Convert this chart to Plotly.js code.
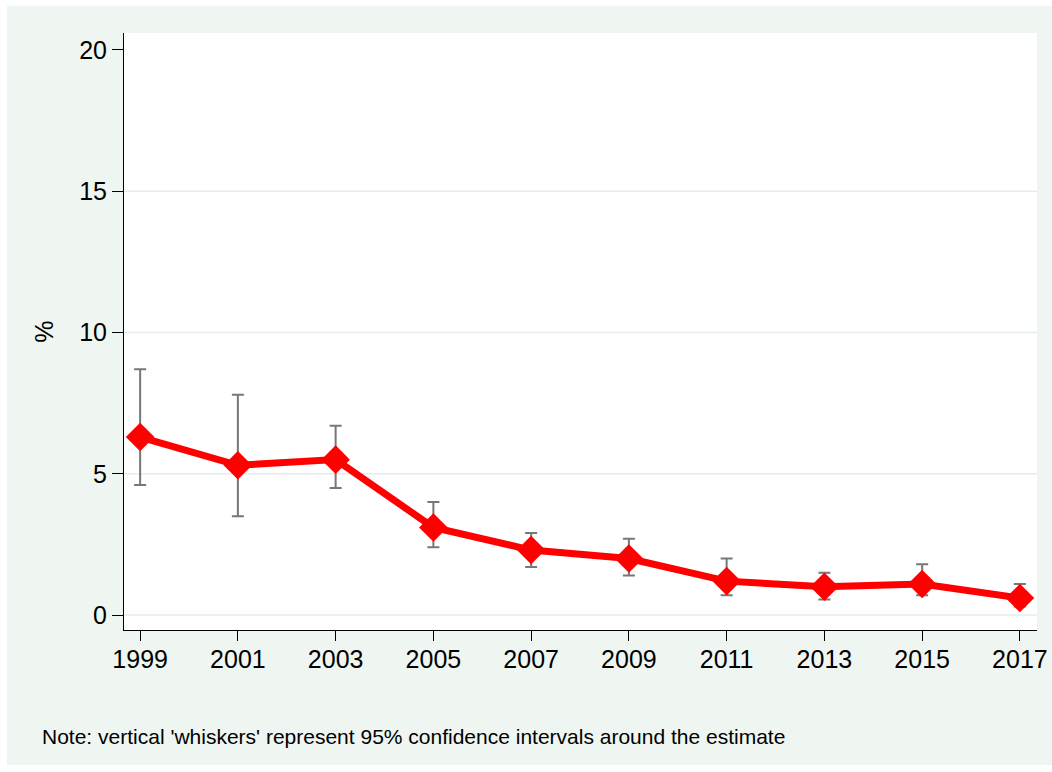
<!DOCTYPE html>
<html>
<head>
<meta charset="utf-8">
<script src="https://cdn.plot.ly/plotly-3.0.1.min.js"></script>
<style>
  html, body { margin: 0; padding: 0; background: #ffffff; width: 1052px; height: 772px; overflow: hidden; }
  #chart { position: absolute; left: 7px; top: 6px; width: 1045px; height: 759px; }
</style>
</head>
<body>
<div id="chart"></div>
<script>
const years = [1999, 2001, 2003, 2005, 2007, 2009, 2011, 2013, 2015, 2017];
const estimate = [6.3, 5.3, 5.5, 3.1, 2.3, 2.0, 1.2, 1.0, 1.1, 0.6];
const ciUpper = [8.7, 7.8, 6.7, 4.0, 2.9, 2.7, 2.0, 1.5, 1.8, 1.1];
const ciLower = [4.6, 3.5, 4.5, 2.4, 1.7, 1.4, 0.7, 0.55, 0.7, 0.3];
const yTicks = [0, 5, 10, 15, 20];
const gridValues = [0, 5, 10, 15];
const noteText = "Note: vertical 'whiskers' represent 95% confidence intervals around the estimate";

const errPlus = estimate.map((v, i) => ciUpper[i] - v);
const errMinus = estimate.map((v, i) => v - ciLower[i]);

const trace = {
  x: years,
  y: estimate,
  type: 'scatter',
  mode: 'lines+markers',
  line: { color: '#ff0000', width: 7 },
  marker: { symbol: 'diamond', size: 22, color: '#ff0000' },
  error_y: {
    type: 'data',
    symmetric: false,
    array: errPlus,
    arrayminus: errMinus,
    color: '#777777',
    thickness: 2,
    width: 6
  },
  hoverinfo: 'x+y'
};

const gridShapes = gridValues.map(v => ({
  type: 'line', xref: 'paper', x0: 0, x1: 1, yref: 'y', y0: v, y1: v,
  line: { color: '#e3ecef', width: 1.5 }, layer: 'below'
}));

const layout = {
  width: 1045,
  height: 759,
  margin: { l: 117, r: 15, t: 27, b: 135 },
  paper_bgcolor: '#eff6f1',
  plot_bgcolor: '#ffffff',
  font: { family: 'Liberation Sans, Arial, sans-serif', color: '#000000' },
  showlegend: false,
  xaxis: {
    range: [1998.67, 2017.35],
    tickvals: years,
    ticktext: years.map(String),
    showgrid: false,
    zeroline: false,
    showline: true,
    linecolor: '#000000',
    linewidth: 1,
    ticks: 'outside',
    ticklen: 10,
    tickcolor: '#000000',
    tickfont: { size: 25 },
    ticklabeloverflow: 'allow',
    ticklabelstandoff: -3,
    fixedrange: true
  },
  yaxis: {
    range: [-0.53, 20.6],
    tickvals: yTicks,
    ticktext: yTicks.map(String),
    showgrid: false,
    zeroline: false,
    showline: true,
    linecolor: '#000000',
    linewidth: 1,
    ticks: 'outside',
    ticklen: 11,
    tickcolor: '#000000',
    tickfont: { size: 25 },
    title: { text: '%', font: { size: 25 }, standoff: 18 },
    fixedrange: true
  },
  shapes: gridShapes,
  annotations: [{
    text: noteText,
    xref: 'paper', yref: 'paper',
    x: -0.092, y: -0.1776,
    xanchor: 'left', yanchor: 'middle',
    showarrow: false,
    font: { size: 21, color: '#000000' }
  }]
};

Plotly.newPlot('chart', [trace], layout, { displayModeBar: false, staticPlot: true });
</script>
</body>
</html>
